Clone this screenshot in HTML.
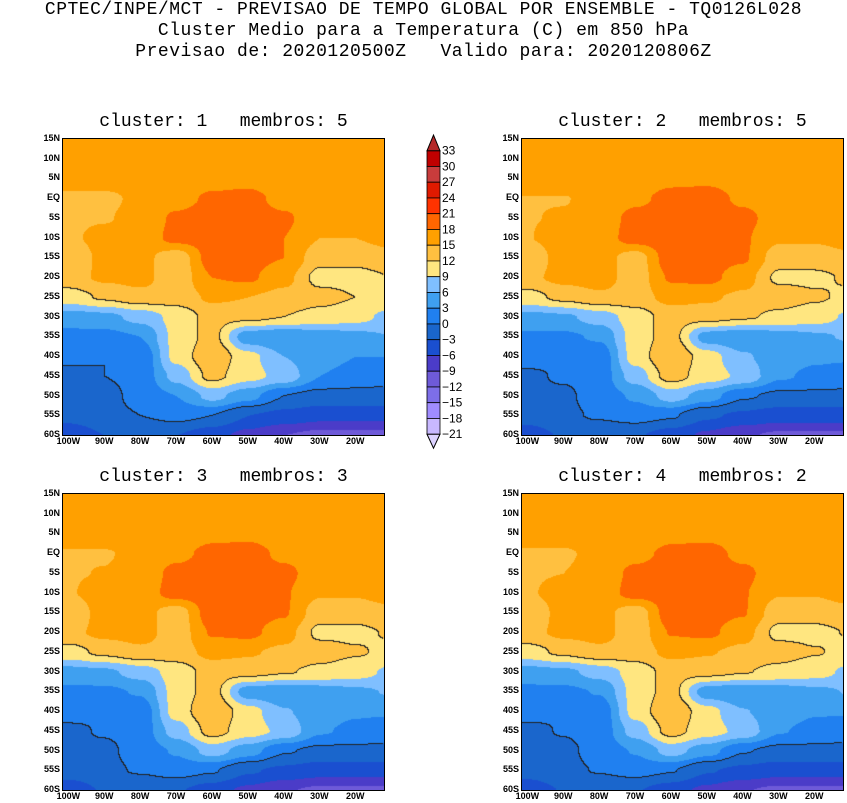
<!DOCTYPE html>
<html><head><meta charset="utf-8">
<style>
body{margin:0;background:#fff;width:847px;height:803px;overflow:hidden;position:relative;font-family:"Liberation Sans",sans-serif}
.t{position:absolute;left:0;width:847px;text-align:center;font-size:18px;color:#000;letter-spacing:0.5px;font-family:"Liberation Mono","Liberation Sans",monospace}
.pt{position:absolute;font-size:18px;text-align:center;width:330px;font-family:"Liberation Mono",monospace}
.lab{position:absolute;font-size:9px;font-weight:bold;color:#000}
canvas{position:absolute;border:1.5px solid #000;box-sizing:content-box}
</style></head><body>
<div class="t" style="top:0px">CPTEC/INPE/MCT - PREVISAO DE TEMPO GLOBAL POR ENSEMBLE - TQ0126L028</div>
<div class="t" style="top:21px">Cluster Medio para a Temperatura (C) em 850 hPa</div>
<div class="t" style="top:42px">Previsao de: 2020120500Z &nbsp; Valido para: 2020120806Z</div>
<svg id="cb" style="position:absolute;left:420px;top:130px" width="60" height="320"></svg>
<div id="root"></div>
<script>
// data: temperature grid (deg C) at lat 15N..60S step 5, lon 100W..10W step 10
const lats=[15,10,5,0,-5,-10,-15,-20,-25,-30,-35,-40,-45,-50,-55,-60];
const lons=[-100,-90,-80,-70,-60,-50,-40,-30,-20,-10];
const tempGrid=[
[16,16,16,16,16,16,16,16,16,17],
[16,16,16,16,16,16,16,16,16,16.5],
[16,16,16,16,17,17,16,16,16,16],
[14.5,14.5,15.5,17,18.5,19,17,16,16,16],
[14.5,14.8,16,18.5,19.5,19.5,18.5,16,16,16],
[14.5,16,16,19,19.5,19.5,18,15,15,16],
[12.5,16,16,13,19.5,19,18,13,13,14],
[14,15.5,16,13,18,18.5,16,11,11,12],
[10.5,12.5,14,13.5,15.5,15,14,13,12,11],
[4.5,5,7,10,13,13,12,11,10,8],
[2,2,3,10,13,4,3,4,5,6],
[1,0,0.5,10,14.5,10,6,4,3,3],
[-1,0,1,7,13,10,8,3,2,1],
[-1,-1,1,3,7,4,0,-1,-1,-1],
[-2,-1,0,1,0,-3,-4,-5,-5,-5],
[-5,-3,-3,-3,-5,-7,-9,-10,-10,-10]];
const panelOffsets=[0,0.4,0.3,0.2];
const clusterIds=[1,2,3,4];
const memberCounts=[5,5,3,2];
const contourLevels=[0,12];
const levels=[-21,-18,-15,-12,-9,-6,-3,0,3,6,9,12,15,18,21,24,27,30,33];
const colors=["#dcd2ff","#c8b8ff","#a08cff","#7d6ee8","#6e5ad8","#4b3cc8","#1a4fd0","#1a66cc","#2080f0","#3fa0f0","#7fbfff","#ffe680","#ffc040","#ffa000","#ff6600","#ff3300","#e01a00","#c83c3c","#c00000","#b42828"];
const latTicks=["15N","10N","5N","EQ","5S","10S","15S","20S","25S","30S","35S","40S","45S","50S","55S","60S"];
const lonTicks=["100W","90W","80W","70W","60W","50W","40W","30W","20W"];

function colorFor(v){let i=0;while(i<levels.length&&v>=levels[i])i++;return colors[i];}
function sample(lat,lon,off){
  let fy=(15-lat)/5, fx=(lon+100)/10;
  fy=Math.max(0,Math.min(lats.length-1.001,fy)); fx=Math.max(0,Math.min(lons.length-1.001,fx));
  const i=Math.floor(fy),j=Math.floor(fx);let a=fy-i,b=fx-j;
  a=a*a*(3-2*a);b=b*b*(3-2*b);
  return (tempGrid[i][j]*(1-a)*(1-b)+tempGrid[i][j+1]*(1-a)*b+tempGrid[i+1][j]*a*(1-b)+tempGrid[i+1][j+1]*a*b)+off;
}
const W=321,H=296,lonMin=-101.5,lonMax=-12;
const px=[63,522,63,522],py=[139,139,494,494];
const root=document.getElementById('root');
for(let p=0;p<4;p++){
  const x0=px[p],y0=py[p];
  const tt=document.createElement('div');tt.className='pt';
  
  
  tt.style.left=(x0+W/2-165)+'px';tt.style.top=(y0-27)+'px';
  tt.innerHTML='cluster: '+clusterIds[p]+'&nbsp;&nbsp; membros: '+memberCounts[p];
  root.appendChild(tt);
  const c=document.createElement('canvas');c.width=W;c.height=H;
  
  
  c.style.left=(x0-1.5)+'px';c.style.top=(y0-1.5)+'px';
  root.appendChild(c);
  const g=c.getContext('2d');
  const vals=[];
  for(let yy=0;yy<H;yy++){const row=[];for(let xx=0;xx<W;xx++){
    const lat=15-75*yy/H, lon=lonMin+(lonMax-lonMin)*xx/W;
    row.push(sample(lat,lon,panelOffsets[p]));}vals.push(row);}
  for(let yy=0;yy<H;yy++)for(let xx=0;xx<W;xx++){
    g.fillStyle=colorFor(vals[yy][xx]);g.fillRect(xx,yy,1,1);
  }
  g.fillStyle='#222';
  for(let yy=0;yy<H-1;yy++)for(let xx=0;xx<W-1;xx++){
    for(const L of contourLevels){
      const a=vals[yy][xx]>=L;
      if(a!==(vals[yy][xx+1]>=L)||a!==(vals[yy+1][xx]>=L)){g.fillRect(xx,yy,1,1);}
    }
  }
  latTicks.forEach((t,k)=>{const d=document.createElement('div');d.className='lab';
    
    
    d.textContent=t;d.style.left=(x0-30)+'px';d.style.width='27px';d.style.textAlign='right';
    d.style.top=(y0+k*H/15-6)+'px';root.appendChild(d);});
  lonTicks.forEach((t,k)=>{const d=document.createElement('div');d.className='lab';
    
    
    const lon=-100+10*k;const xc=x0+(lon-lonMin)/(lonMax-lonMin)*W;
    d.textContent=t;d.style.left=(xc-14)+'px';d.style.width='28px';d.style.textAlign='center';
    d.style.top=(y0+H+1)+'px';root.appendChild(d);});
}
// colorbar
const cb=document.getElementById('cb');const ns='http://www.w3.org/2000/svg';
const top0=20.7,step=15.75,n=levels.length-1;
for(let k=0;k<n;k++){
  const r=document.createElementNS(ns,'rect');
  
  
  r.setAttribute('x',7);r.setAttribute('y',top0+k*step);r.setAttribute('width',13);r.setAttribute('height',step);
  r.setAttribute('fill',colors[n-k]);r.setAttribute('stroke','#000');r.setAttribute('stroke-width','0.8');cb.appendChild(r);
}
const tri1=document.createElementNS(ns,'polygon');


tri1.setAttribute('points',`7,${top0} 20,${top0} 13.5,5`);tri1.setAttribute('fill',colors[n+1]);tri1.setAttribute('stroke','#000');cb.appendChild(tri1);
const yb=top0+n*step;
const tri2=document.createElementNS(ns,'polygon');


tri2.setAttribute('points',`7,${yb} 20,${yb} 13.5,${yb+14}`);tri2.setAttribute('fill',colors[0]);tri2.setAttribute('stroke','#000');cb.appendChild(tri2);
for(let k=0;k<=n;k++){
  const t=document.createElementNS(ns,'text');
  
  
  t.setAttribute('x',22);t.setAttribute('y',top0+k*step+4);t.setAttribute('font-size','12');
  t.setAttribute('font-family','Liberation Sans');
  t.textContent=String(levels[n-k]).replace('-','\u2212');cb.appendChild(t);
}
</script>
</body></html>
